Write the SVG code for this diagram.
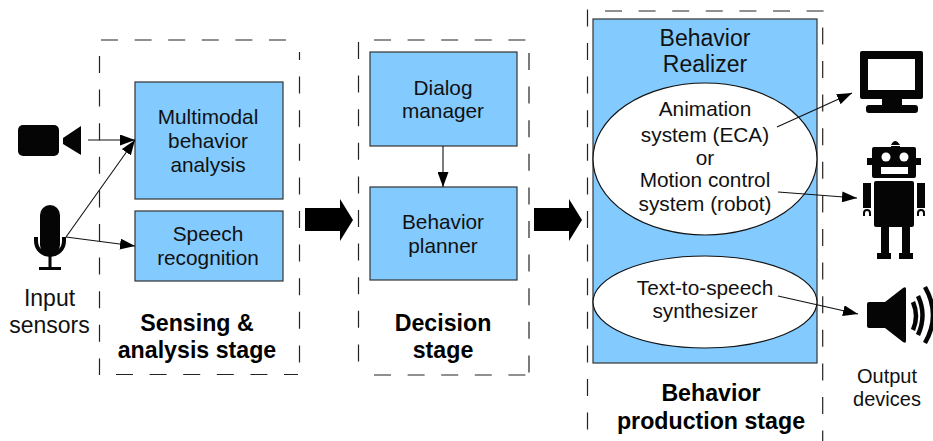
<svg xmlns="http://www.w3.org/2000/svg" width="933" height="441" viewBox="0 0 933 441">
<style>
text{font-family:"Liberation Sans",Arial,sans-serif;font-size:20.8px;fill:#111;text-anchor:middle}
text.b{font-weight:bold;fill:#000;font-size:23.2px}
text.l{font-size:23px}
text.o{font-size:20px}
.box{fill:#83caff;stroke:#333;stroke-width:1.2}
.ell{fill:#fff;stroke:#111;stroke-width:1.2}
.dash{fill:none;stroke:#222;stroke-width:1.2;stroke-dasharray:17 16.6}
.ln{fill:none;stroke:#111;stroke-width:1.1;marker-end:url(#ah)}
.ic{fill:#050505}
</style>
<defs><marker id="ah" markerUnits="userSpaceOnUse" markerWidth="15" markerHeight="11" refX="15" refY="5.5" orient="auto"><path d="M0 0L15 5.5L0 11Z" fill="#000"/></marker></defs>
<g id="stage-sensing"><path class="dash" d="M101 40H292M116 374.5H298M99.5 56V375"/><path class="dash" stroke-dashoffset="9" d="M299.5 52V376"/></g>
<g id="stage-decision"><path class="dash" d="M374 40H528M374 375H528M358.5 42V376M529 53V376"/></g>
<g id="stage-production"><path class="dash" d="M605 11H824M587.5 9.4V432M822.7 27.4V441"/></g>
<g id="multimodal"><rect class="box" x="135" y="82" width="148" height="117"/><text x="208" y="124">Multimodal</text><text x="208" y="148">behavior</text><text x="208" y="172">analysis</text></g>
<g id="speech"><rect class="box" x="135" y="211" width="148" height="70"/><text x="208" y="241">Speech</text><text x="208" y="265">recognition</text></g>
<g id="dialog"><rect class="box" x="370" y="52" width="147" height="94"/><text x="443" y="95">Dialog</text><text x="443" y="118">manager</text></g>
<g id="planner"><rect class="box" x="370" y="187" width="147" height="93"/><text x="443" y="229">Behavior</text><text x="443" y="253">planner</text></g>
<g id="realizer"><rect class="box" x="593" y="19" width="224" height="344"/><text class="l" x="705" y="46">Behavior</text><text class="l" x="705" y="72">Realizer</text></g>
<g id="animation"><ellipse class="ell" cx="705" cy="159" rx="112" ry="76"/><text x="705" y="116">Animation</text><text x="705" y="142">system (ECA)</text><text x="705" y="165">or</text><text x="705" y="187">Motion control</text><text x="705" y="211">system (robot)</text></g>
<g id="tts"><ellipse class="ell" cx="705" cy="302" rx="112" ry="46"/><text x="705" y="295">Text-to-speech</text><text x="705" y="318">synthesizer</text></g>
<g id="camera" class="ic"><rect x="18" y="125" width="41" height="31" rx="5"/><path d="M63 138L81 126V155L63 144Z"/></g>
<g id="microphone"><rect class="ic" x="40" y="205" width="20" height="50" rx="10"/><path d="M36 237V241A14 14 0 0 0 64 241V237" fill="none" stroke="#050505" stroke-width="4"/><path d="M50 255V267M39 268.500H61" stroke="#050505" stroke-width="3" fill="none"/></g>
<g id="monitor" class="ic"><path fill-rule="evenodd" d="M862 51H921Q923 51 923 53V97Q923 99 921 99H902V105H915Q918 105 918 108V110Q918 113 915 113H869Q866 113 866 110V108Q866 105 869 105H882V99H862Q860 99 860 97V53Q860 51 862 51ZM868 59V90H915V59Z"/></g>
<g id="robot"><path class="ic" d="M891 145Q895 137 900 145Z"/><rect class="ic" x="891" y="146" width="9" height="1"/><rect class="ic" x="872" y="147" width="44" height="31" rx="2"/><circle cx="886" cy="157" r="4.500" fill="#fff"/><circle cx="904" cy="157" r="4.500" fill="#fff"/><rect x="881" y="167" width="27" height="7" fill="#fff"/><rect class="ic" x="867" y="158" width="5" height="7"/><rect class="ic" x="916" y="158" width="5" height="7"/><rect class="ic" x="874" y="181" width="40" height="46" rx="2"/><rect class="ic" x="863" y="183" width="8" height="25"/><rect class="ic" x="917" y="183" width="8" height="25"/><path d="M864 216V213A3 3 0 0 1 870 213V216M918 216V213A3 3 0 0 1 924 213V216" fill="none" stroke="#050505" stroke-width="2"/><rect class="ic" x="881" y="226" width="8" height="28"/><rect class="ic" x="902" y="226" width="8" height="28"/><rect class="ic" x="877" y="253" width="14" height="6"/><rect class="ic" x="899" y="253" width="14" height="6"/></g>
<g id="speaker"><path class="ic" d="M869 302H885L903 288Q906 286 906 289V341Q906 344 903 342L885 328H869Q867 328 867 326V304Q867 302 869 302Z"/><path d="M913 302Q919 316 913 330M918 296Q927 315 918 335M925 287Q941 315 925 343" fill="none" stroke="#050505" stroke-width="4.500"/></g>
<g id="connectors">
<path class="ln" d="M88 140H135"/><path class="ln" d="M66 237L135 140"/><path class="ln" d="M66 237L135 246"/><path class="ln" d="M443 146V187"/>
<path class="ln" d="M777 127L852 93"/><path class="ln" d="M778 192L857 198"/><path class="ln" d="M778 296L858 314"/>
<path d="M305 208H340V199L353 220L340 241V231H305Z" fill="#000"/><path d="M534 208H569V199L582 220L569 241V231H534Z" fill="#000"/>
</g>
<g id="labels"><text class="l" x="49.500" y="306">Input</text><text class="l" x="49.500" y="333">sensors</text>
<text class="b" x="197" y="331">Sensing &amp;</text><text class="b" x="197" y="358">analysis stage</text>
<text class="b" x="443" y="331">Decision</text><text class="b" x="443" y="358">stage</text>
<text class="b" x="711" y="401">Behavior</text><text class="b" x="711" y="429">production stage</text>
<text class="o" x="887" y="383">Output</text><text class="o" x="887" y="406">devices</text></g>
</svg>
